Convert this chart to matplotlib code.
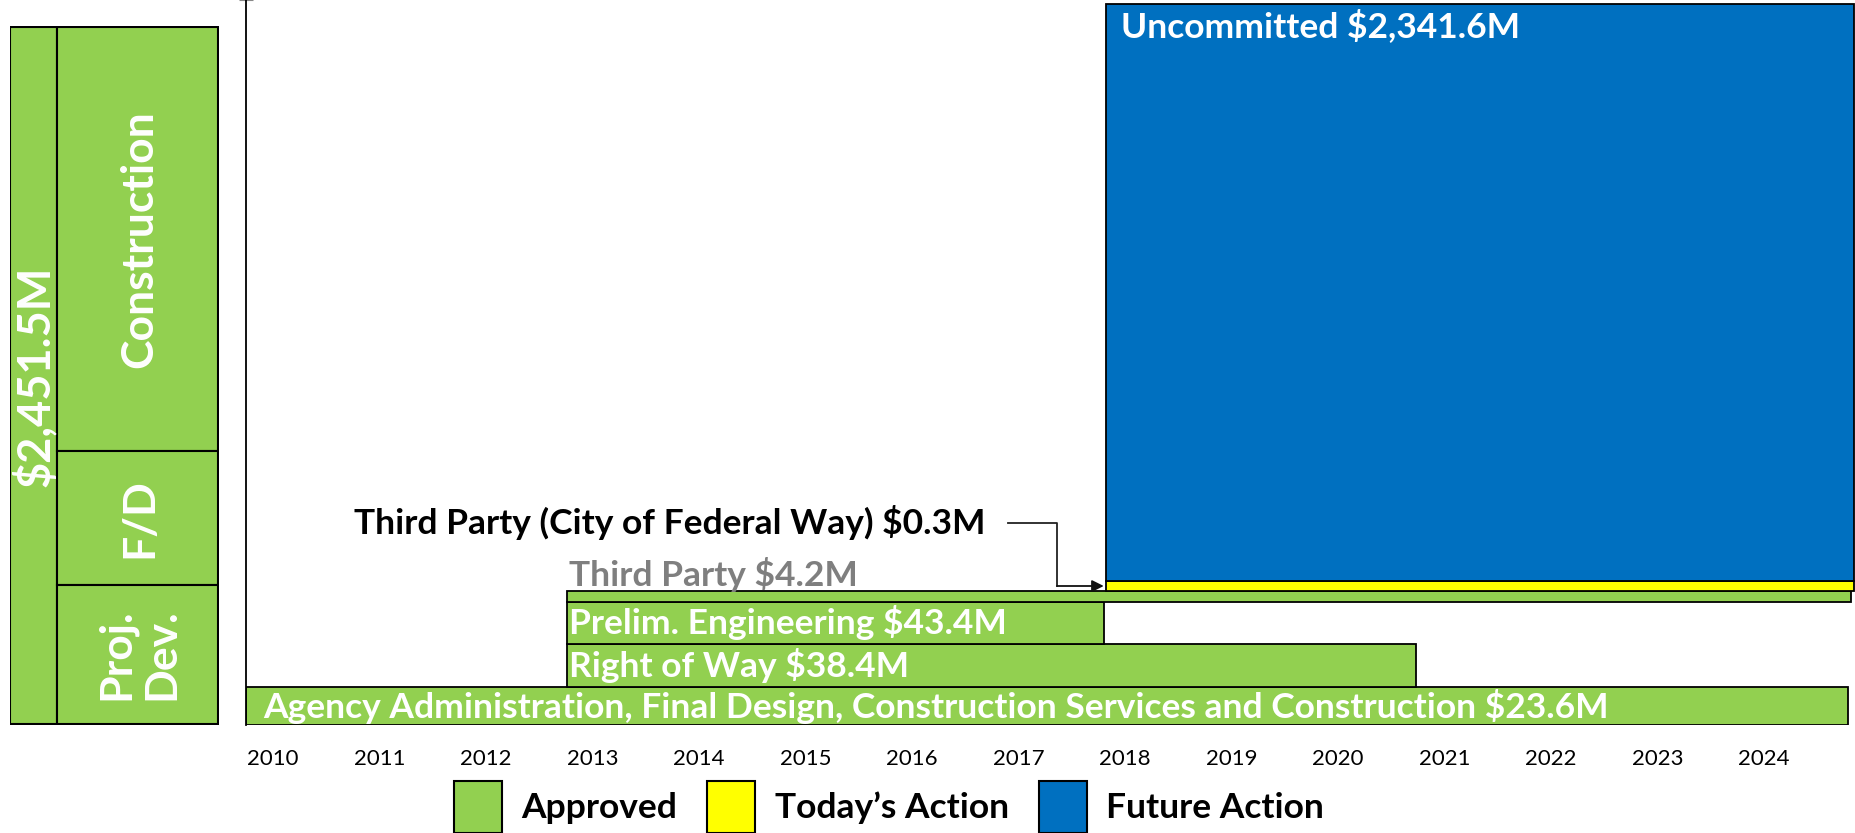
import matplotlib.pyplot as plt
from matplotlib.patches import Patch

plt.rcParams['font.family'] = ['Lato', 'DejaVu Sans']
plt.rcParams['font.weight'] = 'bold'

# Budget lines (start/end in fractional years)
labels = ['Agency Administration, Final Design, Construction Services and Construction $23.6M',
          'Right of Way $38.4M',
          'Prelim. Engineering $43.4M',
          'Third Party $4.2M',
          'Third Party (City of Federal Way) $0.3M',
          'Uncommitted $2,341.6M']
starts = [2009.75, 2012.76, 2012.76, 2012.76, 2017.82, 2017.82]
ends = [2024.79, 2020.73, 2017.80, 2024.82, 2024.84, 2024.84]
status = ['Approved', 'Approved', 'Approved', 'Approved', 'Today’s Action', 'Future Action']

years = list(range(2010, 2025))

# Left summary panel
total_label = '$2,451.5M'
phases = ['Construction', 'F/D', 'Proj.\nDev.']

colors = {'Approved': '#92D050', 'Today’s Action': '#FFFF00', 'Future Action': '#0070C0'}

# layout: row bottoms / heights in pixel-ish units
row_bottom = [0, 38, 81, 123, 134, 144]
row_height = [38, 43, 42, 11, 10, 577]
phase_bottom = [274, 139.4, 0]
phase_height = [425, 134.6, 139.4]

fig = plt.figure(figsize=(18.55, 8.33), dpi=100)

# ---- main gantt axis
ax = fig.add_axes([246 / 1855, 108 / 833, 1609 / 1855, 725 / 833])
for i in range(len(labels)):
    ax.barh(row_bottom[i], ends[i] - starts[i], left=starts[i], height=row_height[i],
            align='edge', color=colors[status[i]], edgecolor='black', linewidth=1.3)

fs = 25.5
# labels inside bars
for i in [0, 1, 2]:
    off = 0.16 if i == 0 else 0.02
    ax.text(starts[i] + off, row_bottom[i] + row_height[i] / 2, labels[i],
            color='white', fontsize=fs, va='center', ha='left')
ax.text(starts[3] + 0.02, 150, labels[3], color='#7F7F7F', fontsize=fs, va='center', ha='left')
ax.text(starts[5] + 0.14, 699, labels[5], color='white', fontsize=fs, va='center', ha='left')
ax.text(2016.685, 202, labels[4], color='black', fontsize=fs, va='center', ha='right')

# elbow arrow to the yellow sliver
ax.plot([2016.90, 2017.36, 2017.36], [202, 202, 139], color='#222222', lw=1.3)
ax.annotate('', xy=(starts[4] - 0.02, 139), xytext=(2017.36, 139),
            arrowprops=dict(arrowstyle='-|>,head_length=0.7,head_width=0.35',
                            color='#111111', lw=1.3, shrinkA=0, shrinkB=0))

ax.set_xlim(2009.746, 2024.854)
ax.set_ylim(0, 725)
ax.set_xticks(years)
ax.set_xticklabels([str(y) for y in years], fontweight='normal', fontsize=16)
ax.tick_params(axis='x', length=0, pad=17)
ax.set_yticks([725])
ax.set_yticklabels([])
ax.tick_params(axis='y', direction='inout', length=10, color='#888888')
for s in ['top', 'right', 'bottom']:
    ax.spines[s].set_visible(False)
ax.spines['left'].set_linewidth(1.3)

# ---- left summary panel
lax = fig.add_axes([9.5 / 1855, 108 / 833, 209.5 / 1855, 699 / 833])
lax.bar(0, 699, width=47.5, bottom=0, align='edge', color='#92D050', edgecolor='black', linewidth=1.5)
for b, h in zip(phase_bottom, phase_height):
    lax.bar(47.5, h, width=162, bottom=b, align='edge', color='#92D050',
            edgecolor='black', linewidth=1.5)
lax.text(24.5, 349, total_label, rotation=90, color='white', fontsize=32.5,
         ha='center', va='center')
for name, b, h in zip(phases, phase_bottom, phase_height):
    lax.text(130, b + h / 2, name, rotation=90, color='white', fontsize=32,
             ha='center', va='center', linespacing=1.15)
lax.set_xlim(-1, 211)
lax.set_ylim(-1, 700)
lax.axis('off')

# ---- legend
handles = [Patch(facecolor=colors[k], edgecolor='black', linewidth=1.5) for k in colors]
fig.legend(handles, list(colors.keys()), loc='center', bbox_to_anchor=(889 / 1855, 26 / 833),
           ncol=3, frameon=False, fontsize=25.5, handlelength=1.35, handleheight=1.9,
           handletextpad=0.55, columnspacing=0.85, borderpad=0)

fig.savefig('out.png', dpi=100)
